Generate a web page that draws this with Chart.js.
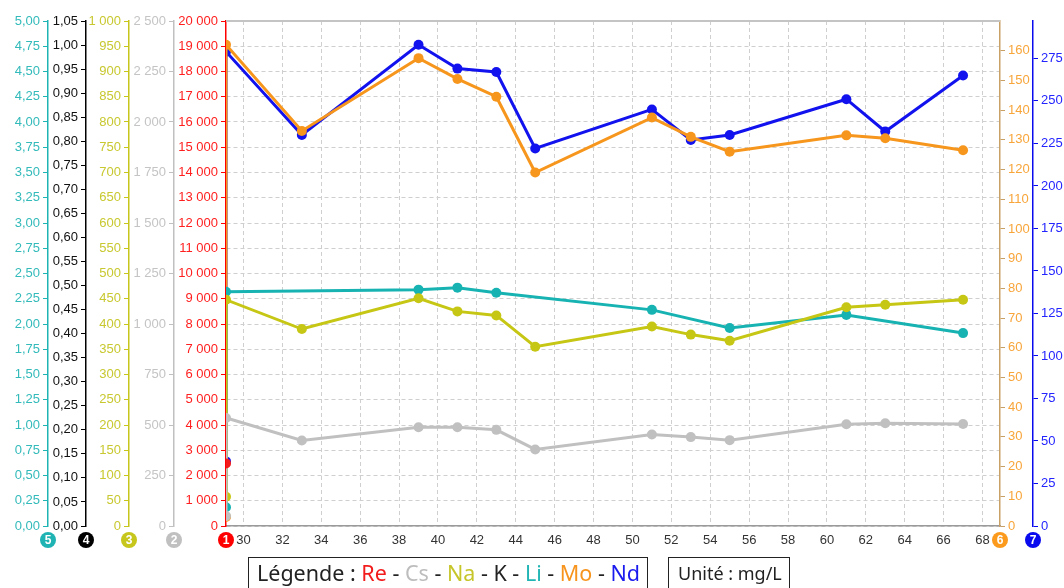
<!DOCTYPE html>
<html lang="fr">
<head>
<meta charset="utf-8">
<title>Concentrations - mg/L</title>
<script src="https://cdn.jsdelivr.net/npm/chart.js@4.4.1/dist/chart.umd.min.js"></script>
<style>
  html, body { margin: 0; padding: 0; background: #fff; }
  #wrap { position: relative; width: 1064px; height: 588px; overflow: hidden; }
  #chart { position: absolute; left: 0; top: 0; }
  .box {
    position: absolute; top: 557px; height: 42px; box-sizing: border-box;
    border: 1.5px solid #222; color: #222; white-space: nowrap;
    font-family: 'Noto Sans', 'Liberation Sans', sans-serif;
  }
  #legend { left: 248px; width: 400px; font-size: 21.5px; padding: 0 0 0 8px; }
  #unit { left: 668px; width: 122px; font-size: 18px; padding: 3px 0 0 9px; }
</style>
</head>
<body>
<div id="wrap">
  <canvas id="chart" width="1064" height="588"></canvas>
  <div class="box" id="legend">Légende : <span style="color:#f21c1c">Re</span> - <span style="color:#bdbdbd">Cs</span> - <span style="color:#c6c62a">Na</span> - <span>K</span> - <span style="color:#22b5b5">Li</span> - <span style="color:#f7941d">Mo</span> - <span style="color:#1a1aef">Nd</span></div>
  <div class="box" id="unit">Unité : mg/L</div>
</div>
<script>
// x positions (the first one is repeated: low start point, then real value)
const xStart = [29.1, 29.1, 33, 39, 41, 43, 45, 51, 53, 55, 61, 63, 67];
const xLi = [29.1, 29.1, 39, 41, 43, 51, 55, 61, 67];
const xRe = [29.1];
const xTicks = [30, 32, 34, 36, 38, 40, 42, 44, 46, 48, 50, 52, 54, 56, 58, 60, 62, 64, 66, 68];

// values, mg/L
const reValues = [2480];
const csValues = [49, 535, 423, 489, 489, 476, 379, 453, 440, 425, 504, 509, 505];
const naValues = [58, 448, 390, 451, 425, 417, 355, 395, 379, 367, 433, 438, 448];
const kValues  = [];
const liValues = [0.185, 2.32, 2.34, 2.36, 2.31, 2.14, 1.96, 2.09, 1.91];
const moValues = [3, 162, 133, 157.5, 150.5, 144.5, 119, 137.5, 131, 126, 131.5, 130.5, 126.5];
const ndValues = [38, 279, 230, 283, 269, 267, 222, 245, 227, 230, 251, 232, 265];

// highest labelled tick on the two right axes
const moTickTop = 160;
const ndTickTop = 275;

// badge under each axis
const badges = [
  { axis: 'yLi', label: '5', color: '#1fb3b3' },
  { axis: 'yK',  label: '4', color: '#000000' },
  { axis: 'yNa', label: '3', color: '#c6c61c' },
  { axis: 'yCs', label: '2', color: '#c0c0c0' },
  { axis: 'yRe', label: '1', color: '#ff0000' },
  { axis: 'yMo', label: '6', color: '#fb9a1c' },
  { axis: 'yNd', label: '7', color: '#0a0aee' },
];

const pts = (xs, ys) => ys.map((y, i) => ({ x: xs[i], y }));
const fmtDec = v => v.toFixed(2).replace('.', ',');
const fmtInt = v => String(Math.round(v)).replace(/\B(?=(\d{3})+(?!\d))/g, ' ');
const onSteps = (step, top) => s => {
  s.ticks = s.ticks.filter(t =>
    Math.abs(t.value / step - Math.round(t.value / step)) < 1e-6 && t.value <= top + 1e-9);
};

function yAxis(position, weight, width, max, step, top, labelColor, lineColor, fmt) {
  return {
    type: 'linear', position, weight, min: 0, max,
    afterFit: s => { s.width = width; },
    afterBuildTicks: onSteps(step, top),
    ticks: { stepSize: step, color: labelColor, padding: 3, autoSkip: false, callback: fmt,
             font: { family: "'Liberation Sans', Arial, sans-serif", size: 13 } },
    grid: { drawOnChartArea: false, tickLength: 5, color: lineColor, tickColor: lineColor },
    border: { color: lineColor, width: 1.5 }
  };
}

function series(label, data, color) {
  return {
    label, data, borderColor: color, backgroundColor: color,
    pointBackgroundColor: color, pointBorderColor: color,
    borderWidth: 3, pointRadius: 5, pointBorderWidth: 0, tension: 0,
  };
}

// top frame line + numbered badges under the axes
const axisBadges = {
  id: 'axisBadges',
  afterDraw(chart) {
    const { ctx, chartArea } = chart;
    ctx.save();
    ctx.strokeStyle = '#c4c4c4';
    ctx.lineWidth = 2;
    ctx.beginPath();
    ctx.moveTo(chartArea.left, chartArea.top);
    ctx.lineTo(chartArea.right, chartArea.top);
    ctx.stroke();
    badges.forEach(b => {
      const s = chart.scales[b.axis];
      const x = s.position === 'left' ? s.right : s.left;
      const y = chartArea.bottom + 14;
      ctx.fillStyle = b.color;
      ctx.beginPath();
      ctx.arc(x, y, 8, 0, Math.PI * 2);
      ctx.fill();
      ctx.fillStyle = '#fff';
      ctx.font = "bold 12px 'Liberation Sans', Arial, sans-serif";
      ctx.textAlign = 'center';
      ctx.textBaseline = 'middle';
      ctx.fillText(b.label, x, y + 1);
    });
    ctx.restore();
  }
};

const reAxis = yAxis('left', 0, 52, 20000, 1000, 20000, '#ff1f1f', '#ff0000', fmtInt);
reAxis.grid = { drawOnChartArea: true, tickLength: 5, color: '#cfcfcf', tickColor: '#ff0000' };
reAxis.border = { color: '#ff0000', width: 1.5, dash: [4, 3] };

new Chart(document.getElementById('chart'), {
  type: 'line',
  data: {
    datasets: [
      { ...series('Re', pts(xRe, reValues), '#f21c1c'), yAxisID: 'yRe' },
      { ...series('Cs', pts(xStart, csValues), '#c0c0c0'), yAxisID: 'yCs' },
      { ...series('Na', pts(xStart, naValues), '#c6c614'), yAxisID: 'yNa' },
      { ...series('K', pts(xStart, kValues), '#000000'), yAxisID: 'yK' },
      { ...series('Li', pts(xLi, liValues), '#17b2b2'), yAxisID: 'yLi' },
      { ...series('Mo', pts(xStart, moValues), '#f7961c'), yAxisID: 'yMo' },
      { ...series('Nd', pts(xStart, ndValues), '#1212ee'), yAxisID: 'yNd' },
    ]
  },
  options: {
    responsive: false,
    animation: false,
    layout: { padding: { left: 0, right: 0, top: 21, bottom: 38 } },
    plugins: { legend: { display: false }, tooltip: { enabled: false } },
    scales: {
      x: {
        type: 'linear', position: 'bottom', min: 29.1, max: 68.9,
        afterFit: s => { s.height = 24; },
        afterBuildTicks: s => { s.ticks = xTicks.map(v => ({ value: v })); },
        ticks: { color: '#333', padding: 7, maxRotation: 0, autoSkip: false,
                 font: { family: "'Liberation Sans', Arial, sans-serif", size: 13 } },
        grid: { color: '#cfcfcf', drawTicks: false },
        border: { color: '#9a9a9a', width: 1.5, dash: [4, 3] }
      },
      yRe: reAxis,
      yCs: yAxis('left', 1, 45, 2500, 250, 2500, '#c4c4c4', '#c0c0c0', fmtInt),
      yNa: yAxis('left', 2, 43, 1000, 50, 1000, '#c8c830', '#c6c61c', fmtInt),
      yK:  yAxis('left', 3, 38, 1.05, 0.05, 1.05, '#111111', '#000000', fmtDec),
      yLi: yAxis('left', 4, 48, 5, 0.25, 5, '#33baba', '#1fb3b3', fmtDec),
      yMo: yAxis('right', 0, 33, 170, 10, moTickTop, '#f8a53a', '#c9a066', fmtInt),
      yNd: yAxis('right', 1, 31, 297, 25, ndTickTop, '#2424ff', '#0a0aee', fmtInt),
    }
  },
  plugins: [axisBadges]
});
</script>
</body>
</html>
